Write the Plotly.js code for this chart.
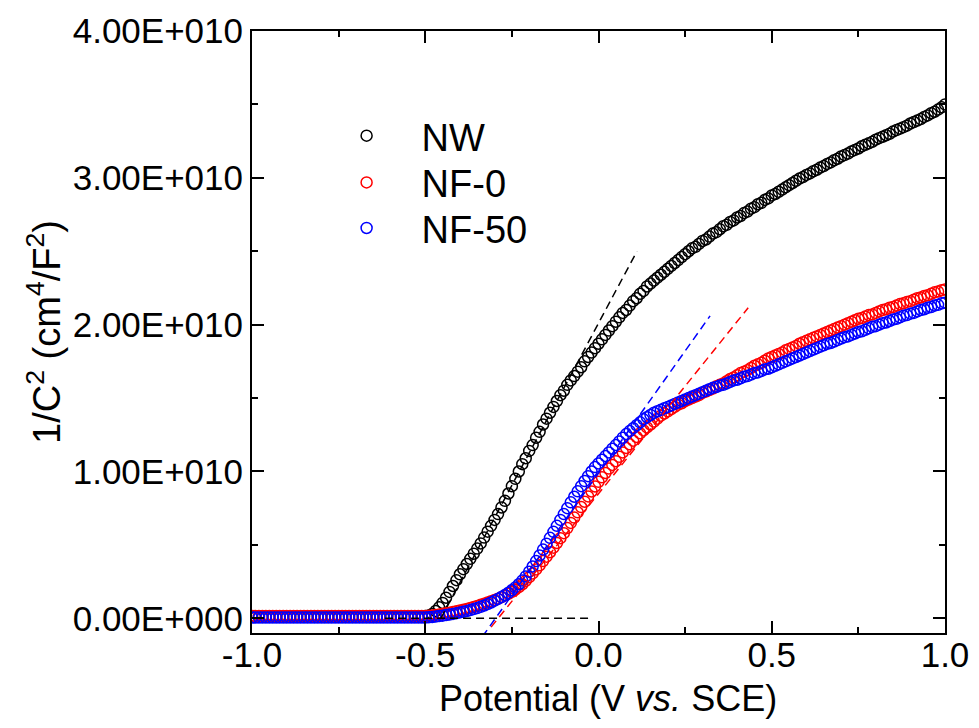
<!DOCTYPE html>
<html>
<head>
<meta charset="utf-8">
<script src="https://cdn.plot.ly/plotly-3.0.1.min.js"></script>
<style>html,body{margin:0;padding:0;background:#fff;}#chart{width:979px;height:728px;}</style>
</head>
<body>
<div id="chart"></div>
<script>
// Potential (V vs. SCE)
var potential = [
-1.00,-0.99,-0.98,-0.97,-0.96,-0.95,-0.94,-0.93,-0.92,-0.91,
-0.90,-0.89,-0.88,-0.87,-0.86,-0.85,-0.84,-0.83,-0.82,-0.81,
-0.80,-0.79,-0.78,-0.77,-0.76,-0.75,-0.74,-0.73,-0.72,-0.71,
-0.70,-0.69,-0.68,-0.67,-0.66,-0.65,-0.64,-0.63,-0.62,-0.61,
-0.60,-0.59,-0.58,-0.57,-0.56,-0.55,-0.54,-0.53,-0.52,-0.51,
-0.50,-0.49,-0.48,-0.47,-0.46,-0.45,-0.44,-0.43,-0.42,-0.41,
-0.40,-0.39,-0.38,-0.37,-0.36,-0.35,-0.34,-0.33,-0.32,-0.31,
-0.30,-0.29,-0.28,-0.27,-0.26,-0.25,-0.24,-0.23,-0.22,-0.21,
-0.20,-0.19,-0.18,-0.17,-0.16,-0.15,-0.14,-0.13,-0.12,-0.11,
-0.10,-0.09,-0.08,-0.07,-0.06,-0.05,-0.04,-0.03,-0.02,-0.01,
0.00,0.01,0.02,0.03,0.04,0.05,0.06,0.07,0.08,0.09,
0.10,0.11,0.12,0.13,0.14,0.15,0.16,0.17,0.18,0.19,
0.20,0.21,0.22,0.23,0.24,0.25,0.26,0.27,0.28,0.29,
0.30,0.31,0.32,0.33,0.34,0.35,0.36,0.37,0.38,0.39,
0.40,0.41,0.42,0.43,0.44,0.45,0.46,0.47,0.48,0.49,
0.50,0.51,0.52,0.53,0.54,0.55,0.56,0.57,0.58,0.59,
0.60,0.61,0.62,0.63,0.64,0.65,0.66,0.67,0.68,0.69,
0.70,0.71,0.72,0.73,0.74,0.75,0.76,0.77,0.78,0.79,
0.80,0.81,0.82,0.83,0.84,0.85,0.86,0.87,0.88,0.89,
0.90,0.91,0.92,0.93,0.94,0.95,0.96,0.97,0.98,0.99,
1.00];

// 1/C^2 in units of 1E+010 cm^4/F^2
var nwValues = [
0.010,0.010,0.010,0.010,0.010,0.010,0.010,0.010,0.010,0.010,
0.010,0.010,0.010,0.010,0.010,0.010,0.010,0.010,0.010,0.010,
0.010,0.010,0.010,0.010,0.010,0.010,0.010,0.010,0.010,0.010,
0.010,0.010,0.010,0.010,0.010,0.010,0.010,0.010,0.010,0.010,
0.010,0.010,0.010,0.010,0.010,0.010,0.010,0.010,0.010,0.012,
0.015,0.020,0.030,0.050,0.075,0.105,0.140,0.180,0.220,0.260,
0.300,0.335,0.370,0.405,0.440,0.475,0.510,0.550,0.590,0.630,
0.670,0.710,0.755,0.800,0.850,0.900,0.950,1.000,1.050,1.090,
1.140,1.180,1.230,1.270,1.320,1.360,1.400,1.440,1.480,1.520,
1.550,1.590,1.620,1.650,1.680,1.710,1.750,1.780,1.810,1.840,
1.870,1.900,1.930,1.960,1.990,2.020,2.050,2.080,2.100,2.130,
2.160,2.180,2.210,2.230,2.260,2.280,2.300,2.320,2.340,2.360,
2.380,2.400,2.420,2.440,2.460,2.480,2.500,2.520,2.530,2.550,
2.570,2.580,2.600,2.620,2.630,2.650,2.670,2.680,2.700,2.710,
2.730,2.740,2.760,2.770,2.790,2.800,2.820,2.830,2.850,2.860,
2.880,2.890,2.905,2.920,2.935,2.950,2.965,2.980,2.995,3.005,
3.020,3.030,3.045,3.055,3.070,3.080,3.095,3.105,3.120,3.130,
3.145,3.155,3.165,3.180,3.190,3.200,3.215,3.225,3.235,3.245,
3.260,3.270,3.280,3.290,3.300,3.315,3.325,3.335,3.345,3.355,
3.370,3.380,3.390,3.400,3.415,3.425,3.440,3.450,3.465,3.480,
3.500];

var nf0Values = [
0.015,0.015,0.015,0.015,0.015,0.015,0.015,0.015,0.015,0.015,
0.015,0.015,0.015,0.015,0.015,0.015,0.015,0.015,0.015,0.015,
0.015,0.015,0.015,0.015,0.015,0.015,0.015,0.015,0.015,0.015,
0.015,0.015,0.015,0.015,0.015,0.015,0.015,0.015,0.015,0.015,
0.015,0.015,0.015,0.015,0.015,0.015,0.015,0.015,0.015,0.015,
0.015,0.017,0.020,0.023,0.026,0.030,0.034,0.038,0.043,0.048,
0.053,0.058,0.064,0.070,0.077,0.084,0.092,0.100,0.108,0.116,
0.125,0.134,0.144,0.155,0.167,0.180,0.195,0.212,0.232,0.255,
0.280,0.306,0.333,0.361,0.390,0.420,0.450,0.481,0.513,0.546,
0.580,0.615,0.650,0.686,0.722,0.758,0.794,0.830,0.864,0.898,
0.930,0.960,0.990,1.020,1.045,1.070,1.100,1.130,1.160,1.185,
1.210,1.235,1.260,1.280,1.300,1.320,1.340,1.360,1.380,1.395,
1.410,1.425,1.440,1.455,1.465,1.480,1.490,1.500,1.510,1.520,
1.535,1.545,1.555,1.565,1.580,1.590,1.600,1.615,1.630,1.640,
1.655,1.670,1.680,1.690,1.705,1.720,1.730,1.740,1.755,1.770,
1.780,1.790,1.800,1.810,1.825,1.835,1.845,1.855,1.870,1.880,
1.890,1.900,1.910,1.920,1.930,1.940,1.950,1.960,1.970,1.980,
1.990,2.000,2.010,2.020,2.030,2.040,2.045,2.055,2.065,2.070,
2.080,2.090,2.100,2.105,2.115,2.120,2.130,2.140,2.145,2.155,
2.160,2.170,2.180,2.185,2.195,2.200,2.210,2.220,2.225,2.235,
2.240];

var nf50Values = [
0.005,0.005,0.005,0.005,0.005,0.005,0.005,0.005,0.005,0.005,
0.005,0.005,0.005,0.005,0.005,0.005,0.005,0.005,0.005,0.005,
0.005,0.005,0.005,0.005,0.005,0.005,0.005,0.005,0.005,0.005,
0.005,0.005,0.005,0.005,0.005,0.005,0.005,0.005,0.005,0.005,
0.005,0.005,0.005,0.005,0.005,0.005,0.005,0.005,0.005,0.005,
0.005,0.007,0.009,0.012,0.015,0.018,0.022,0.026,0.030,0.035,
0.040,0.045,0.050,0.056,0.063,0.070,0.078,0.087,0.097,0.108,
0.120,0.132,0.145,0.159,0.174,0.191,0.210,0.232,0.257,0.285,
0.318,0.353,0.390,0.428,0.468,0.508,0.548,0.589,0.630,0.670,
0.710,0.750,0.790,0.828,0.865,0.900,0.935,0.968,1.000,1.030,
1.055,1.080,1.105,1.130,1.155,1.180,1.205,1.230,1.255,1.275,
1.295,1.315,1.335,1.355,1.370,1.385,1.400,1.410,1.420,1.430,
1.440,1.450,1.460,1.470,1.480,1.490,1.500,1.510,1.520,1.530,
1.540,1.550,1.560,1.570,1.575,1.585,1.590,1.600,1.610,1.620,
1.625,1.635,1.645,1.650,1.660,1.670,1.675,1.685,1.695,1.700,
1.710,1.720,1.730,1.740,1.750,1.760,1.770,1.780,1.790,1.800,
1.810,1.820,1.830,1.840,1.850,1.860,1.870,1.875,1.885,1.895,
1.905,1.915,1.920,1.930,1.940,1.950,1.955,1.965,1.975,1.985,
1.990,2.000,2.010,2.015,2.025,2.035,2.040,2.050,2.060,2.065,
2.075,2.080,2.090,2.100,2.105,2.115,2.120,2.130,2.135,2.145,
2.150];

// Linear-fit (dashed) guide lines: endpoints
var nwFitX = [-0.455, 0.111];
var nwFitY = [0.0, 2.50];
var nf0FitX = [-0.310, 0.432];
var nf0FitY = [-0.06, 2.115];
var nf50FitX = [-0.335, 0.322];
var nf50FitY = [-0.125, 2.06];
var baseFitX = [-0.616, -0.030];
var baseFitY = [0.0, 0.0];

var seriesNames = ['NW', 'NF-0', 'NF-50'];
var xTickVals = [-1.0, -0.5, 0.0, 0.5, 1.0];
var xTickText = ['-1.0', '-0.5', '0.0', '0.5', '1.0'];
var xMinorVals = [-0.75, -0.25, 0.25, 0.75];
var yTickVals = [0, 1, 2, 3, 4];
var yTickText = ['0.00E+000', '1.00E+010', '2.00E+010', '3.00E+010', '4.00E+010'];
var yMinorVals = [0.5, 1.5, 2.5, 3.5];

var FONT = 'Liberation Sans, Arial, sans-serif';

function dataTrace(y, name, color, legendId) {
  return {
    x: potential, y: y, name: name, type: 'scatter', mode: 'markers',
    cliponaxis: true, legend: legendId,
    marker: {symbol: 'circle-open', size: 11, color: color, line: {color: color, width: 1.5}},
    hoverinfo: 'skip'
  };
}
function fitTrace(x, y, color) {
  return {
    x: x, y: y, type: 'scatter', mode: 'lines', showlegend: false, hoverinfo: 'skip',
    line: {color: color, width: 1.5, dash: '8px,5px'}
  };
}

var traces = [
  dataTrace(nwValues, seriesNames[0], '#000000', 'legend'),
  dataTrace(nf0Values, seriesNames[1], '#ff0000', 'legend2'),
  dataTrace(nf50Values, seriesNames[2], '#0000ff', 'legend3'),
  fitTrace(nwFitX, nwFitY, '#000000'),
  fitTrace(baseFitX, baseFitY, '#000000'),
  fitTrace(nf0FitX, nf0FitY, '#ff0000'),
  fitTrace(nf50FitX, nf50FitY, '#0000ff')
];

var axisCommon = {
  showgrid: false, zeroline: false, showline: true, linecolor: '#000', linewidth: 2,
  mirror: 'allticks', ticks: 'inside', ticklen: 12, tickwidth: 2, tickcolor: '#000',
  tickmode: 'array',
  tickfont: {family: FONT, size: 35, color: '#000'}
};

function legendAt(yPaper) {
  return {
    x: 0.086, y: yPaper, xanchor: 'left', yanchor: 'middle',
    bgcolor: 'rgba(0,0,0,0)', borderwidth: 0,
    itemwidth: 100,
    font: {family: FONT, size: 38, color: '#000'}
  };
}

var layout = {
  width: 979, height: 728,
  margin: {l: 252, r: 34, t: 31, b: 95},
  paper_bgcolor: '#fff', plot_bgcolor: '#fff',
  font: {family: FONT, color: '#000'},
  xaxis: Object.assign({}, axisCommon, {
    range: [-1, 1], tickvals: xTickVals, ticktext: xTickText,
    ticklabelstandoff: -10,
    minor: {tickmode: 'array', tickvals: xMinorVals, ticks: 'inside', ticklen: 6, tickwidth: 2, tickcolor: '#000'}
  }),
  yaxis: Object.assign({}, axisCommon, {
    range: [-0.1, 4.0], tickvals: yTickVals, ticktext: yTickText,
    ticklabelstandoff: 0,
    minor: {tickmode: 'array', tickvals: yMinorVals, ticks: 'inside', ticklen: 6, tickwidth: 2, tickcolor: '#000'},
    title: {text: '1/C<sup>2</sup> (cm<sup>4</sup>/F<sup>2</sup>)', font: {family: FONT, size: 38, color: '#000'}, standoff: 0}
  }),
  annotations: [{
    text: 'Potential (V <i>vs.</i> SCE)', xref: 'paper', yref: 'paper',
    x: 0.5137, y: -0.1096, xanchor: 'center', yanchor: 'middle', showarrow: false,
    font: {family: FONT, size: 36, color: '#000'}
  }],
  legend: legendAt(0.8256),
  legend2: legendAt(0.748),
  legend3: legendAt(0.6723),
  showlegend: true
};

Plotly.newPlot('chart', traces, layout, {displayModeBar: false, staticPlot: true});
</script>
</body>
</html>
